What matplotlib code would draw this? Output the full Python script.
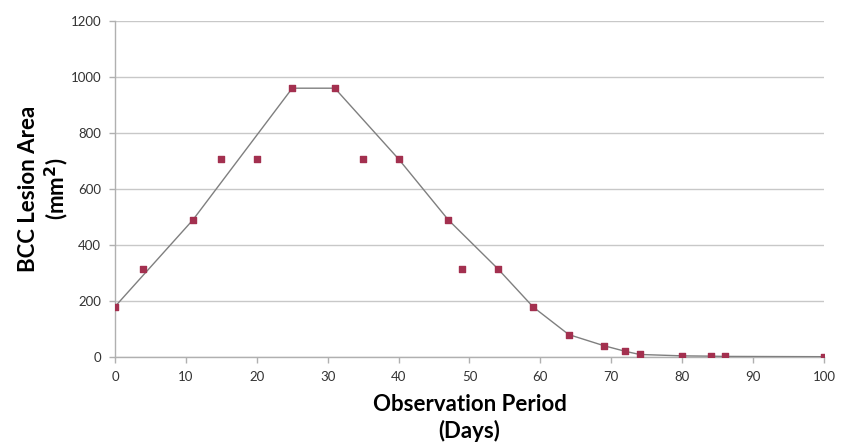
import matplotlib
matplotlib.use('Agg')
import matplotlib.pyplot as plt

plt.rcParams['font.family'] = ['Lato', 'DejaVu Sans']

# observed lesion area (all measurements)
days = [0, 4, 11, 15, 20, 25, 31, 35, 40, 47, 49, 54, 59, 64, 69, 72, 74, 80, 84, 86, 100]
area = [180, 315, 490, 707, 707, 960, 960, 707, 707, 490, 315, 315, 178, 80, 40, 20, 9, 4, 3, 2, 1]

# trend line series
trend_days = [0, 11, 25, 31, 40, 47, 54, 59, 64, 69, 72, 74, 80, 84, 86, 100]
trend_area = [180, 490, 960, 960, 707, 490, 315, 178, 80, 40, 20, 9, 4, 3, 2, 1]

x_ticks = list(range(0, 101, 10))
y_ticks = list(range(0, 1201, 200))

fig = plt.figure(figsize=(8.42, 4.46), dpi=100)
ax = fig.add_axes([0.1366, 0.1996, 0.8420, 0.7533])

ax.plot(trend_days, trend_area, '-', color='#7f7f7f', linewidth=1.0, zorder=3)
ax.scatter(days, area, marker='s', s=14, color='#a3304f', zorder=4)

ax.set_xlim(0, 100)
ax.set_ylim(0, 1200)
ax.set_xticks(x_ticks)
ax.set_yticks(y_ticks)
ax.yaxis.grid(True, color='#c8c8c8', linewidth=1.0)
ax.set_axisbelow(True)

for s in ['top', 'right']:
    ax.spines[s].set_visible(False)
for s in ['left', 'bottom']:
    ax.spines[s].set_color('#b0b0b0')
    ax.spines[s].set_linewidth(1.0)

ax.tick_params(axis='both', colors='#b0b0b0', labelcolor='#333333',
               labelsize=9.5, length=4, width=1.0, pad=6)

ax.set_xlabel('Observation Period\n(Days)', fontsize=16, fontweight='bold',
              labelpad=8, linespacing=1.25)
ax.set_ylabel('BCC Lesion Area\n(mm$^\\mathbf{2}$)', fontsize=16, fontweight='bold',
              labelpad=0, linespacing=1.15)

fig.savefig('out.png', dpi=100)
